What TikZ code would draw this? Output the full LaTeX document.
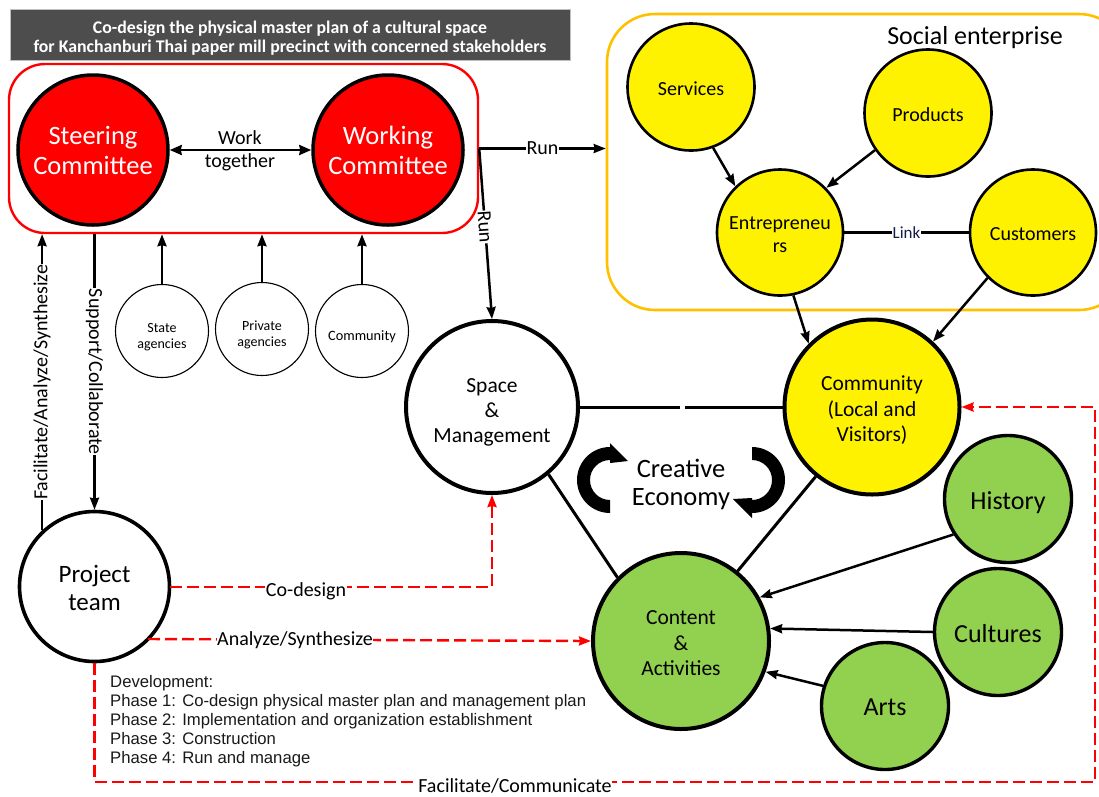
\documentclass[tikz,border=0pt]{standalone}
\usepackage{fontspec}
\setmainfont{Carlito}
\newfontfamily\arialf{Liberation Sans}
\usetikzlibrary{arrows.meta}
\definecolor{gr}{RGB}{146,208,80}
\definecolor{banner}{RGB}{77,77,77}
\definecolor{gold}{RGB}{255,192,0}
\definecolor{navy}{RGB}{20,30,70}
\newcommand{\fs}[2]{\fontsize{#1}{#2}\selectfont}
\newcommand{\st}[2]{\raisebox{-#1pt}[\height][\depth]{\begin{tabular}{@{}c@{}}#2\end{tabular}}}
\setlength{\fboxsep}{0.5pt}
\tikzset{
 x=1pt,y=-1pt,
 circ/.style={circle,draw=black,inner sep=0pt,align=center,line width=#1},
 circ/.default=3pt,
 arr/.style={draw=black,line width=2.5pt,-{Stealth[length=12pt,width=9pt,inset=1pt]}},
 plain/.style={draw=black,line width=3pt},
 red dash/.style={draw=red,line width=2.4pt,dash pattern=on 12pt off 5pt,-{Stealth[length=12pt,width=9pt,inset=1pt]}},
 lbl/.style={fill=white,inner sep=0.5pt,font=\fs{20}{22}},
}
\begin{document}
\begin{tikzpicture}
\useasboundingbox (0,0) rectangle (1099,796);
% banner and containers
\node[fill=banner,draw=black!25,line width=.5pt,minimum width=560pt,minimum height=51pt,inner sep=0pt,text=white,align=center,font=\bfseries\fs{17.8}{19}] (title) at (290,34.5)
 {\st{4.5}{Co-design the physical master plan of a cultural space\\for Kanchanburi Thai paper mill precinct with concerned stakeholders}};
\node[draw=red,line width=2.4pt,rounded corners=36pt,minimum width=469pt,minimum height=169pt,inner sep=0pt] (core) at (243.5,148.5) {};
\node[draw=gold,line width=2.6pt,rounded corners=48pt,minimum width=520pt,minimum height=296pt,inner sep=0pt] (social) at (867,162) {};
\node[font=\fs{26}{28}] (setitle) at (975,36) {\st{3}{Social enterprise}};
% committee
\node[circ=3.5pt,fill=red,text=white,minimum size=150pt,font=\fs{26.5}{30}] (steer) at (93,150) {\st{3}{Steering\\Committee}};
\node[circ=3.5pt,fill=red,text=white,minimum size=150pt,font=\fs{26.5}{30}] (work) at (388,150) {\st{3}{Working\\Committee}};
% stakeholders
\node[circ=1.1pt,minimum size=93pt,font=\fs{14}{16}] (state) at (162,331) {\st{6.5}{State\\agencies}};
\node[circ=1.1pt,minimum size=93pt,font=\fs{14}{16}] (priv) at (262,329) {\st{6}{Private\\agencies}};
\node[circ=1.1pt,minimum size=93pt,font=\fs{14.3}{16}] (commu) at (362,331) {\st{6}{Community}};
% main
\node[circ=4pt,minimum size=172pt,font=\fs{21.5}{25}] (space) at (492,407) {\st{5}{Space\\\&\\Management}};
\node[circ=4pt,fill=yellow,minimum size=175pt,font=\fs{21.5}{25.5}] (comm) at (872,407) {\st{4}{Community\\(Local and\\Visitors)}};
\node[circ=4pt,fill=gr,minimum size=176pt,font=\fs{21.5}{25.5}] (content) at (681,641) {\st{4}{Content\\\&\\Activities}};
\node[circ=3.4pt,fill=gr,minimum size=127pt,font=\fs{26}{30}] (hist) at (1008,499) {\st{4}{History}};
\node[circ=3.4pt,fill=gr,minimum size=127pt,font=\fs{26}{30}] (cult) at (998,632) {\st{4}{Cultures}};
\node[circ=3.4pt,fill=gr,minimum size=127pt,font=\fs{26}{30}] (arts) at (885,706) {\st{3}{Arts}};
\node[circ=3.6pt,minimum size=150pt,font=\fs{25}{28.5}] (team) at (94.5,586.5) {\st{4.5}{Project\\team}};
% social enterprise
\node[circ=2.6pt,fill=yellow,minimum size=127pt,font=\fs{20}{24}] (serv) at (691,87) {\st{3.5}{Services}};
\node[circ=2.6pt,fill=yellow,minimum size=127pt,font=\fs{20}{24}] (prod) at (928,113) {\st{3.5}{Products}};
\node[circ=2.6pt,fill=yellow,minimum size=126pt,font=\fs{20}{23}] (entr) at (780,232.5) {\st{4}{Entrepreneu\\rs}};
\node[circ=2.6pt,fill=yellow,minimum size=126pt,font=\fs{20}{24}] (cust) at (1033,232.5) {\st{3.5}{Customers}};
% text block
\node[anchor=north west,align=left,inner sep=0pt,font=\arialf\fs{16.7}{19},text=black!90] (dev) at (110,675) {Development:\\Phase 1: Co-design physical master plan and management plan\\Phase 2: Implementation and organization establishment\\Phase 3: Construction\\Phase 4: Run and manage};
% helper coordinates
\coordinate (gapA) at (680,407);
\coordinate (gapB) at (685,407);
\coordinate (runA) at (core.east);
\coordinate (botC) at (94.5,782);
\coordinate (botD) at (1095,782);
\coordinate (botE) at (1095,407);
\coordinate (cdc) at (492,587);
\coordinate (cdb) at (170,587);
\coordinate (anb) at (148,639);
% connectors
\draw[line width=2.6pt,{Stealth[length=12pt,width=10pt,inset=1pt]}-{Stealth[length=12pt,width=10pt,inset=1pt]}] (steer.east) -- (work.west);
\node[inner sep=1pt,font=\fs{20}{23}] (wt) at (240,151) {\st{0}{\colorbox{white}{Work}\\together}};
\draw[arr] (runA) -- (runA -| social.west) node[midway,lbl] (runlbl) {Run};
\draw[arr] (runA) -- (space.north) node[pos=.46,lbl,rotate=-86] (runlblb) {Run};
\draw[arr] (state.north) -- (state.north |- core.south);
\draw[arr] (priv.north) -- (priv.north |- core.south);
\draw[arr] (commu.north) -- (commu.north |- core.south);
\draw[arr] (team.133) -- (team.133 |- core.south) node[midway,lbl,rotate=90] (fas) {Facilitate/Analyze/Synthesize};
\draw[arr] (team.north |- core.south) -- (team.north) node[pos=.5,lbl,rotate=-90] (sc) {Support/Collaborate};
\draw[plain] (space.east) -- (gapA) (gapB) -- (comm.west);
\draw[plain] (space.-50) -- (content.135);
\draw[plain] (comm.-129) -- (content.51);
\draw[arr] (hist.-147) -- (content.29);
\draw[arr] (cult.west) -- (content.8);
\draw[arr] (arts.162) -- (content.-20);
\draw[arr] (serv.-70) -- (entr.134);
\draw[arr] (prod.-145) -- (entr.44);
\draw[arr] (entr.-78) -- (comm.135);
\draw[arr] (cust.-135) -- (comm.47);
\draw[draw=black,line width=3.4pt] (entr.east) -- (cust.west) node[midway,fill=white,inner sep=.5pt,text=navy,font=\fs{17}{19}] (lnk) {Link};
% red
\draw[red dash] (cdb) -- (cdc) -- (space.south);
\node[lbl] (cdl) at (306,591) {Co-design};
\draw[red dash] (anb) -- (content.west);
\node[lbl] (anl) at (295,640) {Analyze/Synthesize};
\draw[red dash] (team.south) -- (botC) -- (botD) -- (botE) -- (comm.east);
\node[lbl] (fcl) at (515,786) {Facilitate/Communicate};
% creative economy
\node[align=center,font=\fs{26.5}{28}] (ce) at (681,484) {Creative\\Economy};
\fill[black] (610,513) arc[start angle=270,end angle=90,radius=33pt] -- (610,443) -- (628,461) -- (610,463) -- (610,460) arc[start angle=90,end angle=270,radius=20pt] -- cycle;
\fill[black] (752,447) arc[start angle=90,end angle=-90,radius=33pt] -- (752,518) -- (733,499) -- (752,498) -- (752,500) arc[start angle=-90,end angle=90,radius=20pt] -- cycle;
\end{tikzpicture}
\end{document}
